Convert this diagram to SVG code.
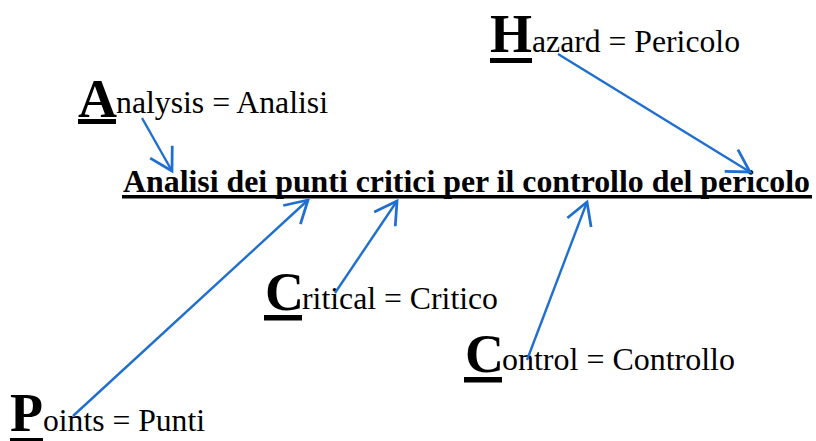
<svg xmlns="http://www.w3.org/2000/svg" width="816" height="441" viewBox="0 0 816 441">
<style>
.big{font-family:"Liberation Serif","Times New Roman",serif;font-weight:bold;font-size:54px;fill:#000}
.txt{font-family:"Liberation Serif","Times New Roman",serif;font-size:31px;fill:#000}
.title{font-family:"Liberation Serif","Times New Roman",serif;font-weight:bold;font-size:32px;fill:#000}
.ul{fill:#000}
.conn{stroke:#1f6fd1;stroke-width:2.4;fill:none;marker-end:url(#arr)}
</style>
<defs>
<marker id="arr" markerUnits="userSpaceOnUse" markerWidth="30" markerHeight="30" viewBox="-22 -13 24 26" refX="0" refY="0" orient="auto">
<path d="M -19 -11 L 0 0 L -19 11" fill="none" stroke="#1f6fd1" stroke-width="2.4"/>
</marker>
</defs>
<rect width="816" height="441" fill="#fff"/>
<g id="title">
<text class="title" x="123" y="192" textLength="687" lengthAdjust="spacingAndGlyphs">Analisi dei punti critici per il controllo del pericolo</text>
<rect class="ul" x="122" y="195" width="690" height="3.5"/>
</g>
<g id="hazard">
<text class="big" x="490" y="52">H</text>
<rect class="ul" x="490" y="58" width="42" height="5"/>
<text class="txt" x="532" y="52" textLength="208" lengthAdjust="spacingAndGlyphs">azard = Pericolo</text>
</g>
<g id="analysis">
<text class="big" x="78" y="117">A</text>
<rect class="ul" x="78" y="119" width="38" height="5"/>
<text class="txt" x="116" y="113" textLength="212" lengthAdjust="spacingAndGlyphs">nalysis = Analisi</text>
</g>
<g id="critical">
<text class="big" x="265" y="310">C</text>
<rect class="ul" x="264" y="315" width="38" height="5.5"/>
<text class="txt" x="302" y="309" textLength="196" lengthAdjust="spacingAndGlyphs">ritical = Critico</text>
</g>
<g id="control">
<text class="big" x="465" y="372">C</text>
<rect class="ul" x="464" y="377" width="38" height="5.5"/>
<text class="txt" x="502" y="370" textLength="233" lengthAdjust="spacingAndGlyphs">ontrol = Controllo</text>
</g>
<g id="points">
<text class="big" x="10" y="431">P</text>
<rect class="ul" x="10" y="438" width="33" height="3"/>
<text class="txt" x="43" y="431" textLength="162" lengthAdjust="spacingAndGlyphs">oints = Punti</text>
</g>
<g id="connectors">
<line class="conn" x1="558" y1="54" x2="750" y2="172"/>
<line class="conn" x1="142" y1="118" x2="172" y2="171"/>
<line class="conn" x1="73" y1="416" x2="308" y2="200"/>
<line class="conn" x1="335" y1="293" x2="397" y2="201"/>
<line class="conn" x1="527" y1="360" x2="587" y2="202"/>
</g>
</svg>
